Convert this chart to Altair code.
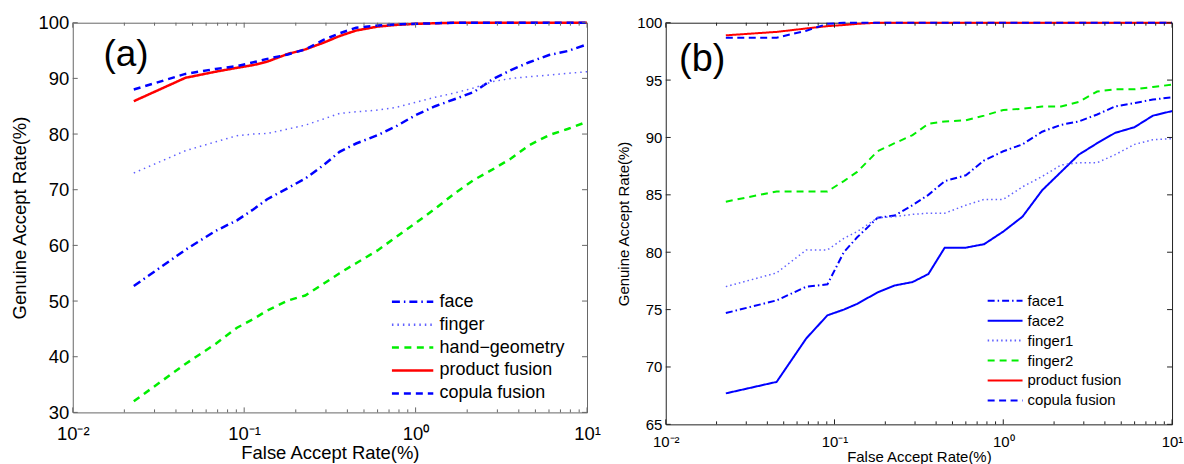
import altair as alt
import pandas as pd

FONT = "Liberation Sans"

# False accept rate (%) sample points shared by all curves
FAR = [0.0227, 0.0454, 0.0681, 0.0908, 0.1135, 0.1362, 0.18, 0.227, 0.29, 0.36,
       0.45, 0.6, 0.77, 1.0, 1.3, 1.7, 2.2, 2.8, 3.6, 4.6, 6.0, 7.7, 10.0]

# Panel (a)
A_SERIES = ["face", "finger", "hand\u2212geometry", "product fusion", "copula fusion"]
A_FACE = [52.7, 59.2, 62.6, 64.5, 66.5, 68.3, 70.3, 72.0, 74.4, 76.8, 78.3, 79.8,
          81.4, 83.4, 85.0, 86.3, 87.6, 89.8, 91.5, 92.9, 94.2, 94.9, 96.1]
A_FINGER = [73.0, 77.0, 78.6, 79.7, 80.0, 80.1, 80.9, 81.6, 82.7, 83.7, 84.0, 84.3,
            84.8, 85.7, 86.6, 87.4, 88.3, 89.4, 90.0, 90.3, 90.6, 90.9, 91.2]
A_HAND = [32.0, 38.7, 42.3, 45.2, 46.8, 48.3, 50.1, 51.0, 53.1, 55.0, 56.8, 59.1,
          61.5, 64.0, 66.6, 69.4, 71.8, 73.6, 75.6, 78.0, 79.8, 80.9, 82.2]
A_PRODUCT = [85.9, 90.1, 91.2, 91.9, 92.4, 93.0, 94.4, 95.2, 96.4, 97.6, 98.6, 99.3,
             99.6, 99.8, 99.9, 100, 100, 100, 100, 100, 100, 100, 100]
A_COPULA = [88.0, 90.8, 91.7, 92.2, 92.9, 93.5, 94.3, 95.2, 96.9, 98.1, 99.1, 99.5,
            99.7, 99.8, 99.9, 100, 100, 100, 100, 100, 100, 100, 100]

# Panel (b)
B_SERIES = ["face1", "face2", "finger1", "finger2", "product fusion", "copula fusion"]
B_FACE1 = [74.7, 75.8, 77.0, 77.2, 80.0, 81.3, 83.0, 83.2, 84.1, 85.0, 86.2, 86.7,
           88.0, 88.8, 89.4, 90.5, 91.1, 91.4, 92.0, 92.7, 93.0, 93.3, 93.5]
B_FACE2 = [67.7, 68.7, 72.5, 74.5, 75.0, 75.5, 76.5, 77.1, 77.4, 78.1, 80.4, 80.4,
           80.7, 81.8, 83.1, 85.4, 87.0, 88.5, 89.5, 90.4, 90.9, 91.9, 92.3]
B_FINGER1 = [77.0, 78.2, 80.2, 80.2, 81.2, 81.8, 83.0, 83.1, 83.3, 83.4, 83.4, 84.1,
             84.6, 84.6, 85.7, 86.6, 87.6, 87.8, 87.8, 88.5, 89.4, 89.8, 89.9]
B_FINGER2 = [84.4, 85.3, 85.3, 85.3, 86.2, 87.0, 88.8, 89.5, 90.2, 91.2, 91.4, 91.5,
             91.9, 92.4, 92.5, 92.7, 92.7, 93.1, 94.0, 94.2, 94.2, 94.4, 94.6]
B_PRODUCT = [98.9, 99.2, 99.5, 99.7, 99.8, 99.9, 100, 100, 100, 100, 100, 100,
             100, 100, 100, 100, 100, 100, 100, 100, 100, 100, 100]
B_COPULA = [98.7, 98.7, 99.3, 99.9, 100, 100, 100, 100, 100, 100, 100, 100,
            100, 100, 100, 100, 100, 100, 100, 100, 100, 100, 100]

# Axis ticks / labels
X_TICKS = [0.01, 0.1, 1, 10]
X_TICK_LABELS = ["10\u207b\u00b2", "10\u207b\u00b9", "10\u2070", "10\u00b9"]
X_MINOR = [0.02, 0.03, 0.04, 0.05, 0.06, 0.07, 0.08, 0.09,
           0.2, 0.3, 0.4, 0.5, 0.6, 0.7, 0.8, 0.9,
           2, 3, 4, 5, 6, 7, 8, 9]
A_Y_TICKS = [30, 40, 50, 60, 70, 80, 90, 100]
B_Y_TICKS = [65, 70, 75, 80, 85, 90, 95, 100]

PANEL_LABELS = ["(a)", "(b)"]
LABEL_X = [0.0151, 0.0120]
LABEL_Y = [92.2, 95.8]

X_TITLE = "False Accept Rate(%)"
Y_TITLE = "Genuine Accept Rate(%)"


def make_df(series, values, widths):
    rows = []
    for name, vals, w in zip(series, values, widths):
        for f, g in zip(FAR, vals):
            rows.append({"series": name, "far": f, "gar": g, "w": w})
    return pd.DataFrame(rows)


label_expr = "{0}[indexof({1}, datum.value)]".format(
    "[" + ",".join("'%s'" % s for s in X_TICK_LABELS) + "]",
    "[" + ",".join(str(v) for v in X_TICKS) + "]",
)


def panel(df, domain, colors, dashes, W, H, ydom, yticks, frame, fs, leg,
          label_idx, label_size, xlabpad, xtitlepad, ylabpad, ytitlepad, major, minor):
    xs = alt.Scale(type="log", domain=[0.01, 10])
    ys = alt.Scale(domain=ydom, nice=False, zero=False)
    xaxis = alt.Axis(values=X_TICKS, labelExpr=label_expr, title=X_TITLE,
                     ticks=False, tickSize=0, domain=False, grid=False,
                     labelFont=FONT, labelFontSize=fs, labelColor="black",
                     labelPadding=xlabpad, labelFlush=False, labelOverlap=False,
                     titleFont=FONT, titleFontSize=fs, titleFontWeight="normal",
                     titleColor="black", titlePadding=xtitlepad)
    yaxis = alt.Axis(values=yticks, title=Y_TITLE, ticks=False, tickSize=0,
                     domain=False, grid=False, labelFont=FONT, labelFontSize=fs,
                     labelColor="black", labelPadding=ylabpad, labelFlush=False,
                     labelOverlap=False, titleFont=FONT, titleFontSize=fs,
                     titleFontWeight="normal", titleColor="black",
                     titlePadding=ytitlepad)
    X = lambda f: alt.X(f, scale=xs, axis=xaxis)
    Y = lambda f: alt.Y(f, scale=ys, axis=yaxis)
    lines = alt.Chart(df).mark_line(strokeCap="butt", strokeJoin="miter").encode(
        x=X("far:Q"),
        y=Y("gar:Q"),
        color=alt.Color("series:N", scale=alt.Scale(domain=domain, range=colors), legend=leg),
        strokeDash=alt.StrokeDash("series:N", scale=alt.Scale(domain=domain, range=dashes), legend=leg),
        strokeWidth=alt.StrokeWidth("w:Q", scale=None, legend=None),
    )
    layers = [lines]
    xmaj = pd.DataFrame({"far": X_TICKS})
    xmin = pd.DataFrame({"far": X_MINOR})
    ymaj = pd.DataFrame({"gar": yticks})
    for d, L in ((xmaj, major), (xmin, minor)):
        base = alt.Chart(d).mark_rule(color=frame, strokeWidth=1)
        layers.append(base.encode(x=X("far:Q"), y=alt.value(H), y2=alt.value(H - L)))
        layers.append(base.encode(x=X("far:Q"), y=alt.value(0), y2=alt.value(L)))
    ybase = alt.Chart(ymaj).mark_rule(color=frame, strokeWidth=1)
    layers.append(ybase.encode(y=Y("gar:Q"), x=alt.value(0), x2=alt.value(major)))
    layers.append(ybase.encode(y=Y("gar:Q"), x=alt.value(W), x2=alt.value(W - major)))
    lab = pd.DataFrame({"t": [PANEL_LABELS[label_idx]], "far": [LABEL_X[label_idx]],
                        "gar": [LABEL_Y[label_idx]]})
    layers.append(alt.Chart(lab).mark_text(align="left", baseline="alphabetic",
                                           font=FONT, fontSize=label_size,
                                           color="black").encode(
        x=X("far:Q"), y=Y("gar:Q"), text="t:N"))
    return alt.layer(*layers).properties(
        width=W, height=H, view=alt.ViewBackground(stroke=frame, strokeWidth=1))


df_a = make_df(A_SERIES, [A_FACE, A_FINGER, A_HAND, A_PRODUCT, A_COPULA],
               [2.5, 1.5, 2.5, 2.5, 2.5])
df_b = make_df(B_SERIES, [B_FACE1, B_FACE2, B_FINGER1, B_FINGER2, B_PRODUCT, B_COPULA],
               [2, 2, 1.5, 2, 2, 2])

leg_a = alt.Legend(orient="none", legendX=319, legendY=268.6, title=None,
                   symbolType="stroke", symbolSize=1722, symbolStrokeWidth=2.5,
                   clipHeight=22.75, rowPadding=0, padding=0, labelOffset=5,
                   labelFont=FONT, labelFontSize=18, labelColor="black", direction="vertical")
leg_b = alt.Legend(orient="none", legendX=322, legendY=269.2, title=None,
                   symbolType="stroke", symbolSize=1225, symbolStrokeWidth=2,
                   clipHeight=19.55, rowPadding=0, padding=0, labelOffset=4,
                   labelFont=FONT, labelFontSize=15, labelColor="black", direction="vertical")

left = panel(df_a, A_SERIES,
             ["#0000ff", "#6060ff", "#00ee00", "#ff0000", "#0000ff"],
             [[8, 4, 1.5, 4], [1.5, 4], [7, 5.5], [1, 0], [7, 5]],
             516, 391, [30, 100], A_Y_TICKS, "#666666", 18.5, leg_a, 0, 37,
             12, 1, 4, 9, 5, 3)
right = panel(df_b, B_SERIES,
              ["#0000ff", "#0000ff", "#6060ff", "#00ee00", "#ff0000", "#0000ff"],
              [[7, 3, 1.5, 3], [1, 0], [1.5, 3], [7, 5], [1, 0], [7, 4.5]],
              508, 403, [65, 100], B_Y_TICKS, "#222222", 15, leg_b, 1, 38,
              10, 0, 4, 5, 5, 3)

chart = alt.hconcat(left, right, spacing=79, bounds="flush").resolve_scale(
    color="independent", strokeDash="independent", x="independent", y="independent"
).resolve_legend(color="independent", strokeDash="independent").properties(
    padding={"left": 9, "top": 12, "right": 0, "bottom": 0},
    autosize=alt.AutoSizeParams(type="pad"),
    background="white",
)

chart.save("out.html", embed_options={"renderer": "svg", "actions": False})
